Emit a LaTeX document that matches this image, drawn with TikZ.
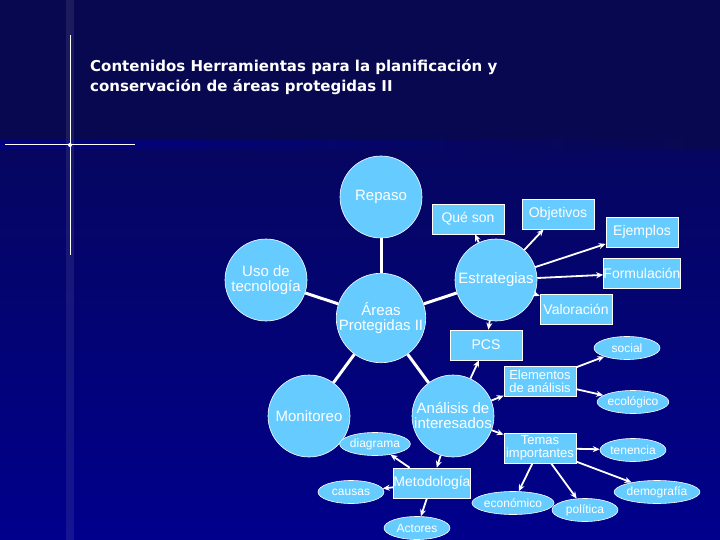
\documentclass[tikz,border=0pt]{standalone}
\usepackage{fontspec}
\setmainfont{Liberation Sans}
\newfontfamily\titlefont{DejaVu Sans}
\usetikzlibrary{shapes.geometric,arrows.meta}
\definecolor{bgtop}{RGB}{8,8,80}
\definecolor{bgbot}{RGB}{0,0,140}
\definecolor{node}{RGB}{102,204,255}
\tikzset{
 circ/.style={circle,fill=node,draw=white,line width=0.6pt,minimum size=82pt,inner sep=0pt,text=white,font=\fontsize{15}{15}\selectfont,align=center},
 boxn/.style={rectangle,fill=node,draw=white,line width=0.6pt,minimum width=72pt,minimum height=30pt,inner sep=0pt,text=white,font=\fontsize{14}{14}\selectfont,align=center},
 ell/.style={ellipse,fill=node,draw=white,line width=0.6pt,minimum width=66pt,minimum height=23pt,inner sep=0pt,text=white,font=\fontsize{12}{12}\selectfont},
 link/.style={white,line width=3pt},
 arr/.style={white,line width=1.8pt,-{Stealth[length=7pt,width=6pt]}}
}
\begin{document}
\begin{tikzpicture}[x=1pt,y=-1pt]
\useasboundingbox (0,0) rectangle (720,540);
\shade[top color=bgtop,bottom color=bgbot] (0,0) rectangle (720,540);
\fill[bgtop] (0,0) rectangle (720,140);
\shade[left color=bgbot!80!bgtop,right color=bgtop] (0,140) rectangle (720,150);
\fill[white,opacity=0.08] (66,0) rectangle (74,540);
\draw[white,line width=1pt] (70,35) -- (70,255);
\draw[white,line width=1pt] (5,145) -- (135,145);
\fill[white] (70,145) circle (2pt);
\node[anchor=north west,text=white,align=left,font=\titlefont\bfseries\fontsize{15}{20}\selectfont,inner sep=0pt] (title) at (90,59) {Contenidos Herramientas para la planificación y\\conservación de áreas protegidas II};
% circles
\node[circ] (rep) at (381,197) {Repaso};
\node[circ] (uso) at (266,280) {Uso de\\tecnología};
\node[circ] (are) at (381,318) {Áreas\\Protegidas II};
\node[circ] (est) at (496,280) {Estrategias};
\node[circ] (mon) at (309,416) {Monitoreo};
\node[circ] (ana) at (453,416) {Análisis de\\interesados};
% boxes
\node[boxn] (que) at (468,219) {Qué son};
\node[boxn] (obj) at (558,214) {Objetivos};
\node[boxn] (eje) at (642,232) {Ejemplos};
\node[boxn] (for) at (642,273) {Formulación};
\node[boxn] (val) at (576,309) {Valoración};
\node[boxn] (pcs) at (486,345) {PCS};
\node[boxn,font=\fontsize{13}{13}\selectfont] (ele) at (540,381) {Elementos\\de análisis};
\node[boxn,font=\fontsize{13}{13}\selectfont] (tem) at (540,448) {Temas\\importantes};
\node[boxn] (met) at (432,483) {Metodología};
% ellipses
\node[ell] (soc) at (627,348) {social};
\node[ell] (eco) at (633,402) {ecológico};
\node[ell] (ten) at (633,450) {tenencia};
\node[ell] (dem) at (657,492) {demografía};
\node[ell] (pol) at (585,510) {política};
\node[ell] (econ) at (513,503) {económico};
\node[ell] (dia) at (375,444) {diagrama};
\node[ell] (cau) at (351,492) {causas};
\node[ell] (act) at (417,528) {Actores};
% links
\begin{scope}[on background layer/.style={}]
\end{scope}
\draw[link] (rep) -- (are);
\draw[link] (uso) -- (are);
\draw[link] (are) -- (est);
\draw[link] (are) -- (mon);
\draw[link] (are) -- (ana);
\draw[arr] (est) -- (que);
\draw[arr] (est) -- (obj);
\draw[arr] (est) -- (eje);
\draw[arr] (est) -- (for);
\draw[arr] (est) -- (val);
\draw[arr] (est) -- (pcs);
\draw[arr] (ana) -- (pcs);
\draw[arr] (ana) -- (ele);
\draw[arr] (ana) -- (tem);
\draw[arr] (ana) -- (met);
\draw[arr] (ele) -- (soc);
\draw[arr] (ele) -- (eco);
\draw[arr] (tem) -- (ten);
\draw[arr] (tem) -- (dem);
\draw[arr] (tem) -- (pol);
\draw[arr] (tem) -- (econ);
\draw[arr] (met) -- (dia);
\draw[arr] (met) -- (cau);
\draw[arr] (met) -- (act);
\end{tikzpicture}
\end{document}
